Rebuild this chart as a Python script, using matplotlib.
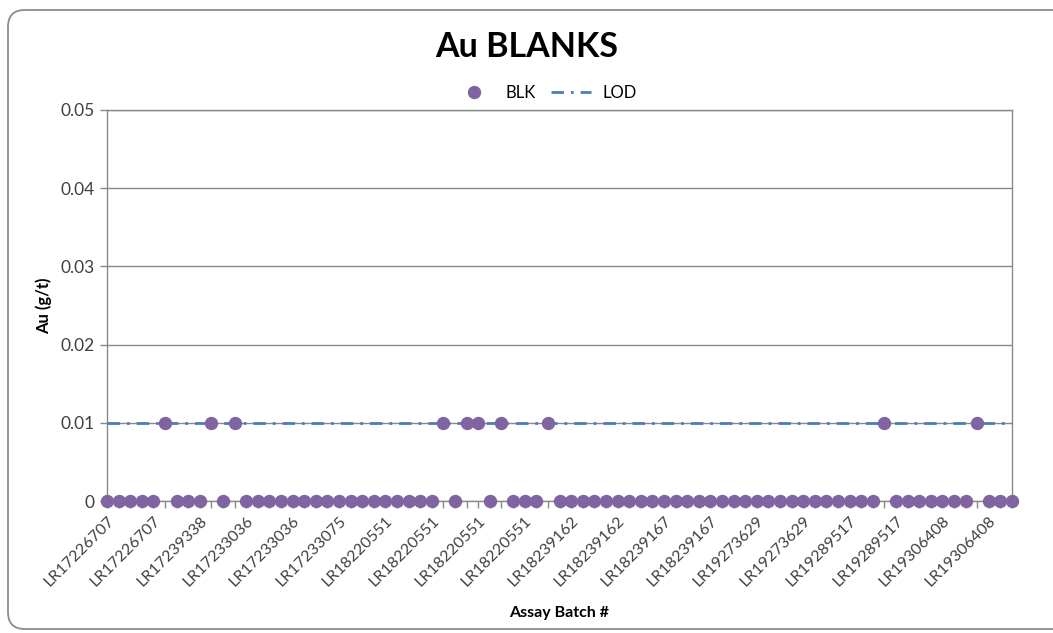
import matplotlib
matplotlib.use("Agg")
import matplotlib.pyplot as plt
from matplotlib.patches import FancyBboxPatch
from matplotlib.lines import Line2D

plt.rcParams["font.family"] = ["Lato", "DejaVu Sans"]

# one value per sample, in batch order (g/t)
blk_values = [
    0, 0, 0, 0, 0, 0.01, 0, 0, 0, 0.01,
    0, 0.01, 0, 0, 0, 0, 0, 0, 0, 0,
    0, 0, 0, 0, 0, 0, 0, 0, 0, 0.01,
    0, 0.01, 0.01, 0, 0.01, 0, 0, 0, 0.01, 0,
    0, 0, 0, 0, 0, 0, 0, 0, 0, 0,
    0, 0, 0, 0, 0, 0, 0, 0, 0, 0,
    0, 0, 0, 0, 0, 0, 0, 0.01, 0, 0,
    0, 0, 0, 0, 0, 0.01, 0, 0, 0,
]
lod_level = 0.01

# every 4th category carries a label
batch_labels = [
    "LR17226707", "LR17226707", "LR17239338", "LR17233036", "LR17233036",
    "LR17233075", "LR18220551", "LR18220551", "LR18220551", "LR18220551",
    "LR18239162", "LR18239162", "LR18239167", "LR18239167", "LR19273629",
    "LR19273629", "LR19289517", "LR19289517", "LR19306408", "LR19306408",
]
label_step = 4
y_ticks = [0, 0.01, 0.02, 0.03, 0.04, 0.05]
y_tick_labels = ["0", "0.01", "0.02", "0.03", "0.04", "0.05"]

PURPLE = "#8064A2"
BLUE = "#4A7EBB"
GREY = "#898989"
LOD_DASH = (0, (4.5, 2.5, 1, 2.5))

fig = plt.figure(figsize=(10.53, 6.33), dpi=100)
ax = fig.add_axes([107 / 1053, 1 - 501 / 633, (1012 - 107) / 1053, (501 - 110) / 633])

# rounded chart-area border
border = FancyBboxPatch((8 / 1053, 4 / 633), 1.2, 1 - 14 / 633,
                        boxstyle="round,pad=0,rounding_size=0.016",
                        transform=fig.transFigure, fill=False,
                        edgecolor="#8c8c8c", lw=1.3, mutation_aspect=1053 / 633)
fig.patches.append(border)

x = list(range(len(blk_values)))
ax.axhline(lod_level, color=BLUE, lw=2, ls=LOD_DASH, zorder=3)
ax.plot(x, blk_values, ls="none", marker="o", ms=8.6, color=PURPLE,
        markeredgecolor=PURPLE, zorder=4, clip_on=False)

ax.set_xlim(0, len(blk_values) - 1)
ax.set_ylim(0, 0.05)
ax.set_yticks(y_ticks)
ax.set_yticklabels(y_tick_labels, fontsize=12.5, color="#404040")
ax.set_xticks(x)
ax.set_xticklabels([batch_labels[i // label_step] if i % label_step == 0 else ""
                    for i in x], rotation=45, ha="right", rotation_mode="anchor",
                   fontsize=11.5, color="#404040")
ax.tick_params(axis="both", direction="out", length=5, width=1, color=GREY, pad=4)
ax.tick_params(axis="x", pad=4)
ax.grid(axis="y", color=GREY, lw=1)
ax.set_axisbelow(True)
for s in ax.spines.values():
    s.set_color(GREY)
    s.set_linewidth(1)

ax.set_ylabel("Au (g/t)", fontsize=12, fontweight="bold", labelpad=6)
ax.set_xlabel("Assay Batch #", fontsize=11.5, fontweight="bold", labelpad=12)
fig.text(527 / 1053, 1 - 47 / 633, "Au BLANKS", ha="center", va="center",
         fontsize=24.5, fontweight="bold")

handles = [
    Line2D([], [], ls="none", marker="o", ms=8.6, color=PURPLE),
    Line2D([], [], color=BLUE, lw=2, ls=LOD_DASH),
]
fig.legend(handles, ["BLK", "LOD"], loc="center", bbox_to_anchor=(545 / 1053, 1 - 93 / 633),
           ncol=2, frameon=False, fontsize=12, handlelength=2.4, columnspacing=0.9,
           handletextpad=0.7)

fig.savefig("out.png", dpi=100)
